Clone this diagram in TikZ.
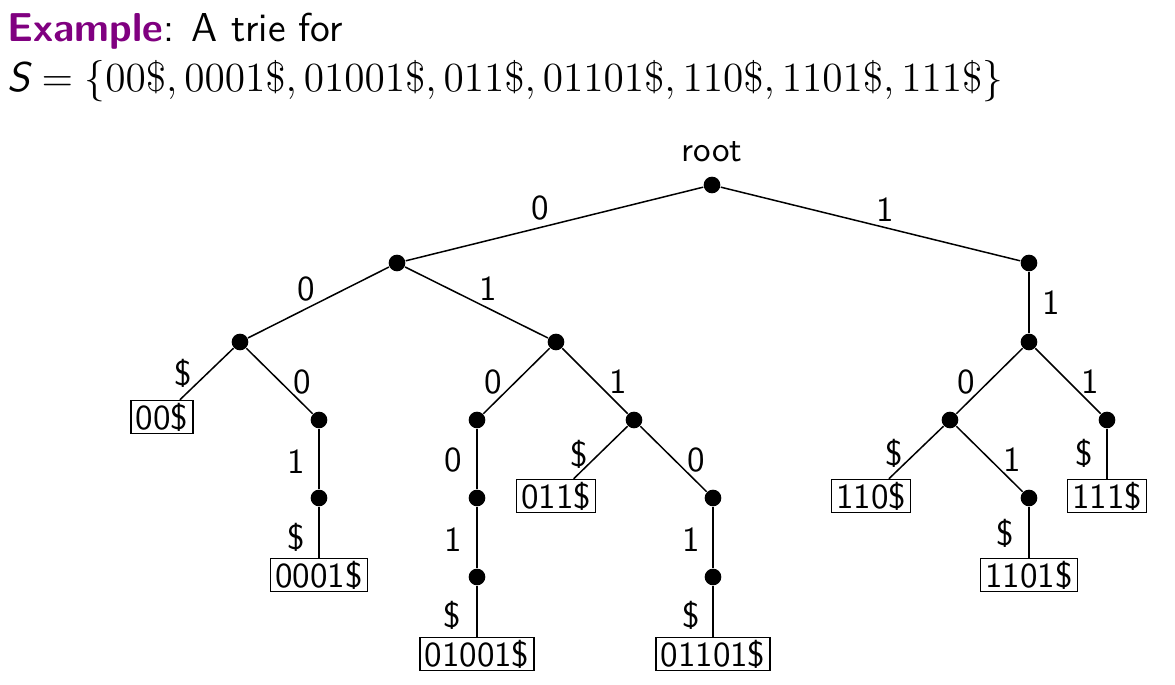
\documentclass[tikz,border=0pt]{standalone}
\usepackage{xcolor}
\usepackage{graphicx}
\definecolor{expurple}{RGB}{128,0,128}
\newcommand\trfont{\fontsize{10.5}{12}\selectfont\sffamily}
\newcommand\ttlfont{\fontsize{12.1}{14}\selectfont\sffamily}
\newcommand\mthfont{\fontsize{12}{14}\selectfont\sffamily}
\begin{document}
\begin{tikzpicture}[x=0.3pt,y=-0.3pt,
  dot/.style={circle,fill=black,inner sep=0pt,minimum size=5pt},
  leaf/.style={draw,line width=0.45pt,inner xsep=1.4pt,inner ysep=0.7pt,font=\trfont},
  lbl/.style={font=\trfont,inner sep=0pt},
  edge/.style={line width=0.45pt}]
\useasboundingbox (0,0) rectangle (1175,685);
% title
\node[anchor=base west,inner sep=0pt,font=\ttlfont] (t1) at (7,41.7)
  {\textbf{\textcolor{expurple}{Example}}: A trie for};
\node[anchor=base west,inner sep=0pt,font=\mthfont] (t2) at (7,92)
  {\scalebox{1.035}{$\textsf{\itshape S}=\{00\$,0001\$,01001\$,011\$,01101\$,110\$,1101\$,111\$\}$}};
% nodes
\node[dot] (root) at (712,185) {};
\node[lbl] (rootl) at (712,152) {root};
\node[dot] (n0) at (397,263) {};
\node[dot] (n1) at (1029,263) {};
\node[dot] (n00) at (240,342) {};
\node[dot] (n01) at (556,342) {};
\node[dot] (n11) at (1029,342) {};
\node[leaf] (b00) at (162,417) {00\$};
\node[dot] (n000) at (319,420) {};
\node[dot] (n010) at (477,420) {};
\node[dot] (n011) at (634,420) {};
\node[dot] (n110) at (950,420) {};
\node[dot] (n111) at (1107,420) {};
\node[dot] (n0001) at (319,498) {};
\node[dot] (n0100) at (477,498) {};
\node[leaf] (b011) at (556,496) {011\$};
\node[dot] (n0110) at (713,498) {};
\node[leaf] (b110) at (871,496) {110\$};
\node[dot] (n1101) at (1029,498) {};
\node[leaf] (b111) at (1107,496) {111\$};
\node[leaf] (b0001) at (319,575) {0001\$};
\node[dot] (n01001) at (477,577) {};
\node[dot] (n01101) at (713,577) {};
\node[leaf] (b1101) at (1029,575) {1101\$};
\node[leaf] (b01001) at (477,654) {01001\$};
\node[leaf] (b01101) at (713,654) {01101\$};
% edges
\draw[edge] (root) -- (n0);
\draw[edge] (root) -- (n1);
\draw[edge] (n0) -- (n00);
\draw[edge] (n0) -- (n01);
\draw[edge] (n1) -- (n11);
\draw[edge] (n00) -- (b00);
\draw[edge] (n00) -- (n000);
\draw[edge] (n01) -- (n010);
\draw[edge] (n01) -- (n011);
\draw[edge] (n11) -- (n110);
\draw[edge] (n11) -- (n111);
\draw[edge] (n000) -- (n0001);
\draw[edge] (n010) -- (n0100);
\draw[edge] (n011) -- (b011);
\draw[edge] (n011) -- (n0110);
\draw[edge] (n110) -- (b110);
\draw[edge] (n110) -- (n1101);
\draw[edge] (n111) -- (b111);
\draw[edge] (n0001) -- (b0001);
\draw[edge] (n0100) -- (n01001);
\draw[edge] (n0110) -- (n01101);
\draw[edge] (n1101) -- (b1101);
\draw[edge] (n01001) -- (b01001);
\draw[edge] (n01101) -- (b01101);
% edge labels
\node[lbl] (e1) at (540,208) {0};
\node[lbl] (e2) at (885,210) {1};
\node[lbl] (e3) at (306,289) {0};
\node[lbl] (e4) at (488,289) {1};
\node[lbl] (e5) at (1051,303) {1};
\node[lbl] (e6) at (183,373) {\$};
\node[lbl] (e7) at (302,382) {0};
\node[lbl] (e8) at (493,382) {0};
\node[lbl] (e9) at (618,382) {1};
\node[lbl] (e10) at (966,382) {0};
\node[lbl] (e11) at (1090,382) {1};
\node[lbl] (e12) at (296,462) {1};
\node[lbl] (e13) at (453,460) {0};
\node[lbl] (e14) at (579,454) {\$};
\node[lbl] (e15) at (696,460) {0};
\node[lbl] (e16) at (894,453) {\$};
\node[lbl] (e17) at (1012,460) {1};
\node[lbl] (e18) at (1084,453) {\$};
\node[lbl] (e19) at (296,537) {\$};
\node[lbl] (e20) at (453,540) {1};
\node[lbl] (e21) at (691,540) {1};
\node[lbl] (e22) at (1005,533) {\$};
\node[lbl] (e23) at (452,615) {\$};
\node[lbl] (e24) at (691,615) {\$};
\end{tikzpicture}
\end{document}
